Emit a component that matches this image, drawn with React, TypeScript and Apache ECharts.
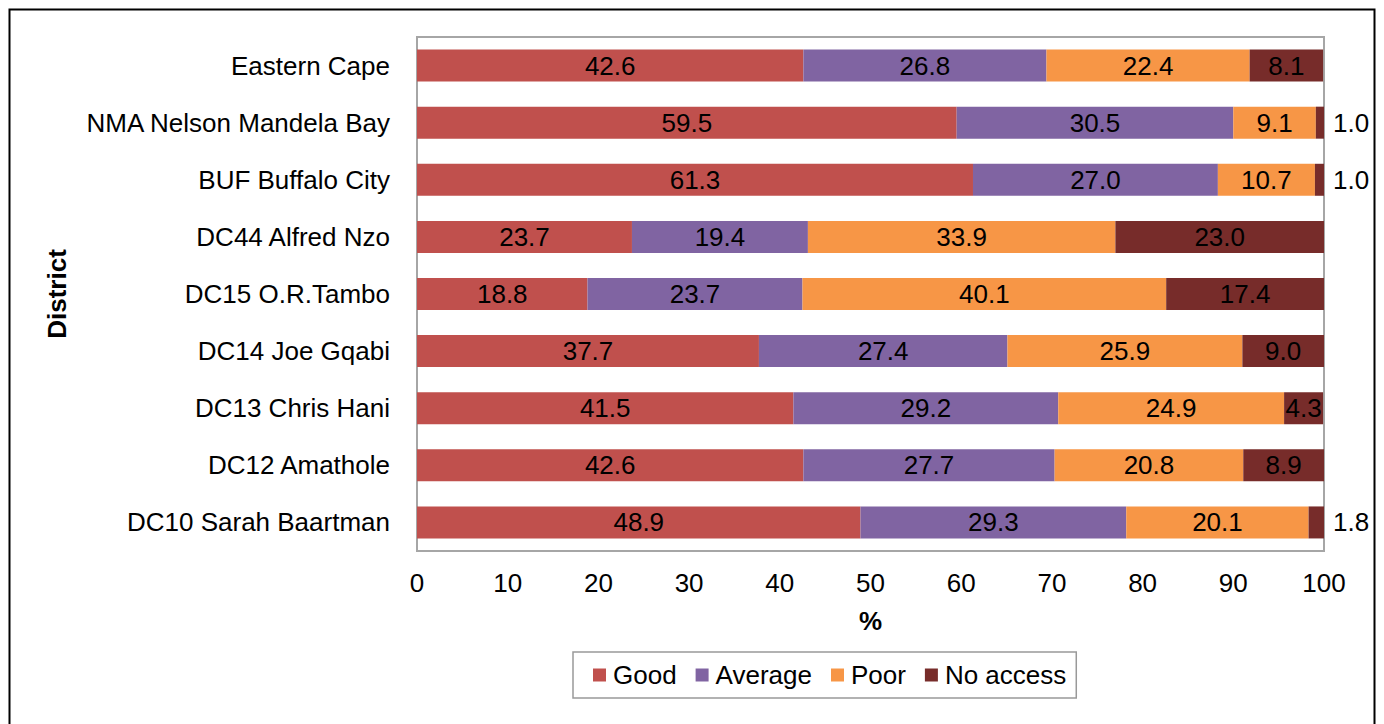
import React, { useEffect, useRef } from "react";
import * as echarts from "echarts";

const categories = [
  "Eastern Cape",
  "NMA Nelson Mandela Bay",
  "BUF Buffalo City",
  "DC44 Alfred Nzo",
  "DC15 O.R.Tambo",
  "DC14 Joe Gqabi",
  "DC13 Chris Hani",
  "DC12 Amathole",
  "DC10 Sarah Baartman",
];
const good = [42.6, 59.5, 61.3, 23.7, 18.8, 37.7, 41.5, 42.6, 48.9];
const average = [26.8, 30.5, 27.0, 19.4, 23.7, 27.4, 29.2, 27.7, 29.3];
const poor = [22.4, 9.1, 10.7, 33.9, 40.1, 25.9, 24.9, 20.8, 20.1];
const noAccess = [8.1, 1.0, 1.0, 23.0, 17.4, 9.0, 4.3, 8.9, 1.8];
const xTicks = [0, 10, 20, 30, 40, 50, 60, 70, 80, 90, 100];

const seriesDefs = [
  { name: "Good", data: good, color: "#C0504D" },
  { name: "Average", data: average, color: "#8064A2" },
  { name: "Poor", data: poor, color: "#F79646" },
  { name: "No access", data: noAccess, color: "#772C2A" },
];

const FONT = "'Liberation Sans', Arial, sans-serif";
const FS = 26;

export default function App() {
  const ref = useRef<HTMLDivElement>(null);
  useEffect(() => {
    if (!ref.current) return;
    const chart = echarts.init(ref.current, null, { renderer: "svg" });
    chart.setOption({
      animation: false,
      textStyle: { fontFamily: FONT },
      graphic: [
        {
          type: "polyline",
          shape: { points: [[9.5, 740], [9.5, 9.5], [1374.5, 9.5], [1374.5, 740]] },
          style: { stroke: "#000", lineWidth: 2, fill: "none" },
          silent: true,
        },
      ],
      grid: {
        left: 417,
        right: 60,
        top: 37,
        bottom: 173,
        show: true,
        borderColor: "#a6a6a6",
        borderWidth: 2,
        backgroundColor: "#fff",
      },
      legend: {
        left: 573,
        top: 652,
        padding: [10, 10, 10, 20],
        itemWidth: 13,
        itemHeight: 13,
        itemGap: 19,
        icon: "rect",
        borderColor: "#999",
        borderWidth: 1.5,
        textStyle: { fontSize: FS, color: "#000", fontFamily: FONT, padding: [0, 0, 0, 2] },
        data: seriesDefs.map((s) => s.name),
      },
      xAxis: {
        type: "value",
        min: 0,
        max: 100,
        interval: 10,
        name: "%",
        nameLocation: "middle",
        nameGap: 57,
        nameTextStyle: { fontSize: FS, fontWeight: "bold", color: "#000", fontFamily: FONT },
        axisLine: { show: false },
        axisTick: { show: false },
        splitLine: { show: false },
        axisLabel: {
          fontSize: FS,
          color: "#000",
          margin: 19,
          fontFamily: FONT,
          formatter: (v: number) => (xTicks.includes(v) ? String(v) : ""),
        },
      },
      yAxis: {
        type: "category",
        inverse: true,
        data: categories,
        name: "District",
        nameLocation: "middle",
        nameGap: 347,
        nameTextStyle: { fontSize: FS, fontWeight: "bold", color: "#000", fontFamily: FONT },
        axisLine: { show: false },
        axisTick: { show: false },
        axisLabel: { fontSize: FS, color: "#000", margin: 27, fontFamily: FONT },
      },
      series: seriesDefs.map((s) => ({
        name: s.name,
        type: "bar",
        stack: "total",
        barWidth: 32,
        itemStyle: { color: s.color },
        label: {
          show: true,
          position: "inside",
          fontSize: FS,
          color: "#000",
          fontFamily: FONT,
          formatter: (p: any) => Number(p.value).toFixed(1),
        },
        data: s.data.map((v) =>
          v < 3
            ? { value: v, label: { position: "right", distance: 9 } }
            : v
        ),
      })),
    });
    return () => chart.dispose();
  }, []);
  return (
    <div
      ref={ref}
      style={{ position: "fixed", left: 0, top: 0, width: 1384, height: 724, background: "#fff" }}
    />
  );
}
